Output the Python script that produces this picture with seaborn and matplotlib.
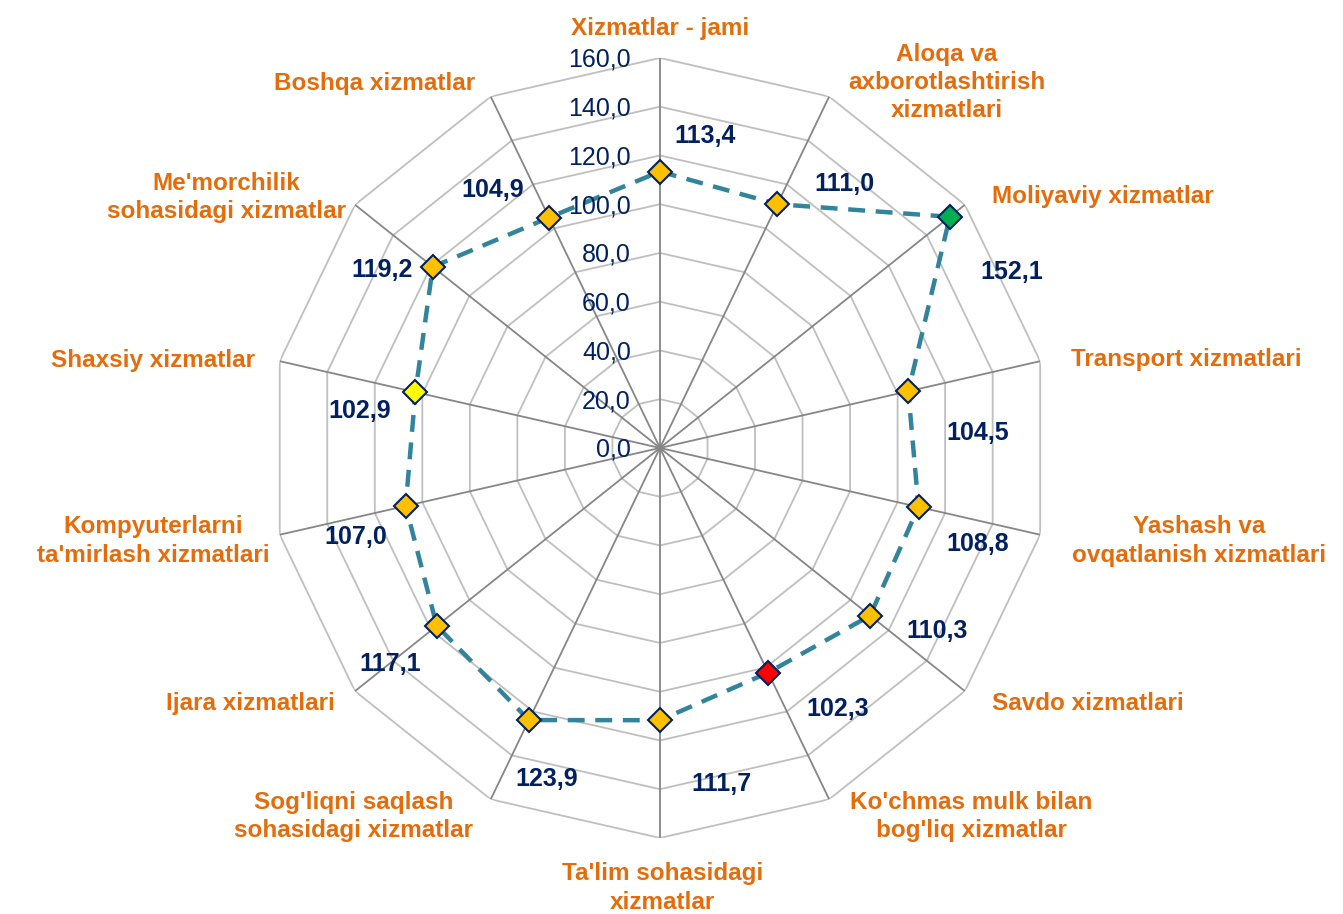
import numpy as np
import pandas as pd
import seaborn as sns
import matplotlib.pyplot as plt

categories = [
    "Xizmatlar - jami",
    "Aloqa va\naxborotlashtirish\nxizmatlari",
    "Moliyaviy xizmatlar",
    "Transport xizmatlari",
    "Yashash va\novqatlanish xizmatlari",
    "Savdo xizmatlari",
    "Ko'chmas mulk bilan\nbog'liq xizmatlar",
    "Ta'lim sohasidagi\nxizmatlar",
    "Sog'liqni saqlash\nsohasidagi xizmatlar",
    "Ijara xizmatlari",
    "Kompyuterlarni\nta'mirlash xizmatlari",
    "Shaxsiy xizmatlar",
    "Me'morchilik\nsohasidagi xizmatlar",
    "Boshqa xizmatlar",
]
values = [113.4, 111.0, 152.1, 104.5, 108.8, 110.3, 102.3,
          111.7, 123.9, 117.1, 107.0, 102.9, 119.2, 104.9]
marker_colors = ["#FFC000", "#FFC000", "#00B050", "#FFC000", "#FFC000", "#FFC000", "#FF0000",
                 "#FFC000", "#FFC000", "#FFC000", "#FFC000", "#FFFF00", "#FFC000", "#FFC000"]
ticks = [0, 20, 40, 60, 80, 100, 120, 140, 160]

# label placement (style only): value label offsets in px, category label (angle deg, radius)
val_offsets = [(45, 36), (67, 20), (62, -55), (69, -42), (59, -37), (67, -15), (70, -36),
               (62, -64), (18, -59), (-47, -38), (-50, -31), (-56, -19), (-51, -3), (-56, 28)]
cat_pos = [(0, 172), (38.1, 190.5), (60.4, 209), (80.5, 219), (99.8, 224.5), (120.9, 204.5),
           (139.8, 198), (179.7, 180.5), (219.7, 196.5), (238, 198), (259.6, 211.5),
           (279.8, 211), (300, 205.5), (322, 190)]

sns.set_style("white")
plt.rcParams['font.family'] = ['Liberation Sans', 'DejaVu Sans']

orange = "#E46C0A"
navy = "#002060"
teal = "#31849B"

n = len(categories)
df = pd.DataFrame({"cat": categories, "val": values,
                   "theta": np.arange(n) * 2 * np.pi / n})

fig = plt.figure(figsize=(13.43, 9.14), dpi=100)
ax = fig.add_axes([0.2010, 0.0832, 0.5808, 0.8534], projection="polar")
ax.set_theta_zero_location("N")
ax.set_theta_direction(-1)
ax.set_ylim(0, 160)
ax.grid(False)
ax.spines["polar"].set_visible(False)
ax.set_xticks([])
ax.set_yticks([])

closed = np.append(df["theta"].values, df["theta"].values[0])
# polygon rings
for t in ticks[1:]:
    ax.plot(closed, [t] * len(closed), color="#BFBFBF", lw=1.3, zorder=1)
# spokes
for th in df["theta"]:
    ax.plot([th, th], [0, 160], color="#868686", lw=1.3, zorder=1)

# tick labels
for t in ticks:
    ax.annotate(f"{t:.1f}".replace(".", ","), xy=(0, t), xytext=(-29, -2),
                textcoords="offset pixels", ha="right", va="center",
                fontsize=18, color=navy, zorder=5)

# data line
sns.lineplot(x=closed, y=np.append(df["val"].values, df["val"].values[0]),
             ax=ax, color=teal, lw=3.2, sort=False, zorder=3,
             dashes=False, estimator=None)
ax.lines[-1].set_dashes([3.8, 2.4])

for th, v, c in zip(df["theta"], df["val"], marker_colors):
    ax.plot(th, v, marker="D", ms=12.5, mfc=c, mec=navy, mew=1.5, zorder=4, clip_on=False)

for th, v, (dx, dy) in zip(df["theta"], df["val"], val_offsets):
    ax.annotate(f"{v:.1f}".replace(".", ","), xy=(th, v), xytext=(dx, dy),
                textcoords="offset pixels", ha="center", va="center",
                fontsize=18, fontweight="bold", color=navy, zorder=5)

for cat, (ang, r) in zip(df["cat"], cat_pos):
    ax.text(np.deg2rad(ang), r, cat, ha="center", va="center", fontsize=17.5,
            fontweight="bold", color=orange, linespacing=1.3, clip_on=False)

ax.set_xlabel("")
ax.set_ylabel("")
fig.savefig("out.png", dpi=100)
